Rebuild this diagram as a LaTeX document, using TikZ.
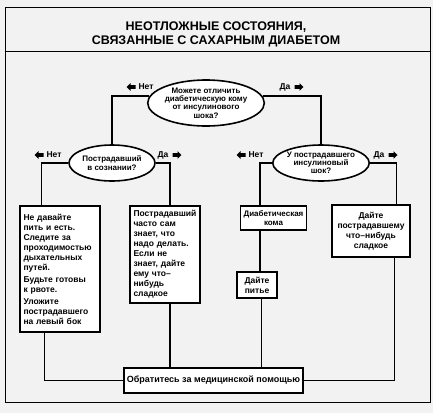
\documentclass[tikz,border=0pt]{standalone}
\usepackage{fontspec}
\setmainfont{Liberation Sans}
\usetikzlibrary{shapes.geometric}
\begin{document}
\begin{tikzpicture}[x=1pt,y=-1pt,
  boxx/.style={draw,line width=1.6pt,fill=white,inner sep=3pt,font=\fontsize{8.5}{10}\selectfont\bfseries},
  ell/.style={draw,ellipse,line width=1.6pt,fill=white,inner sep=0pt,align=center,font=\fontsize{8}{8.2}\selectfont\bfseries},
  conn/.style={line width=1.4pt},
  lbl/.style={inner sep=0pt,font=\fontsize{8.5}{9}\selectfont\bfseries},
  larrow/.style={fill=black},
]
\useasboundingbox (0,0) rectangle (433,413);
\fill[gray!10] (0,0) rectangle (433,413);
\draw[line width=0.9pt] (5,7) rectangle (430,402);
\draw[line width=0.9pt] (5,51) -- (430,51);
\node[align=center,font=\fontsize{12.5}{14}\selectfont\bfseries] (title) at (216,34) {НЕОТЛОЖНЫЕ СОСТОЯНИЯ,\\СВЯЗАННЫЕ С САХАРНЫМ ДИАБЕТОМ};

% ellipses
\node[ell,minimum width=102pt,minimum height=46pt] (top) at (206,103) {Можете отличить\\диабетическую кому\\от инсулинового\\шока?};
\node[ell,minimum width=86pt,minimum height=36pt] (le) at (112,163) {Пострадавший\\в сознании?};
\node[ell,minimum width=94pt,minimum height=36pt] (re) at (321,163) {У пострадавшего\\инсулиновый\\шок?};

% boxes
\node[boxx,minimum width=80pt,minimum height=126pt,text width=73pt,align=left] (b1) at (60,269) {Не давайте\\пить и есть.\\Следите за\\проходимостью\\дыхательных\\путей.\\[2pt]Будьте готовы\\к рвоте.\\[2pt]Уложите\\пострадавшего\\на левый бок};
\node[boxx,minimum width=70pt,minimum height=97pt,text width=63pt,align=left] (b2) at (165,254.5) {Пострадавший\\часто сам\\знает, что\\надо делать.\\Если не\\знает, дайте\\ему что–\\нибудь\\сладкое};
\node[boxx,minimum width=63pt,minimum height=24pt,align=center,font=\fontsize{8}{9.5}\selectfont\bfseries] (b3) at (273.5,218) {Диабетическая\\кома};
\node[boxx,minimum width=78pt,minimum height=52pt,align=center] (b4) at (371,231) {Дайте\\пострадавшему\\что–нибудь\\сладкое};
\node[boxx,minimum width=40pt,minimum height=26pt,align=center] (b5) at (257,285) {Дайте\\питье};
\node[boxx,minimum width=177pt,minimum height=25pt,align=center,font=\fontsize{9}{10}\selectfont\bfseries] (b6) at (213.5,380.5) {Обратитесь за медицинской помощью};

% connectors
\draw[conn] (top.173) -| (le.north);
\draw[conn] (top.7) -| (re.north);
\draw[conn] (le.west) -| ([xshift=22pt]b1.north west);
\draw[conn] (le.east) -| ([xshift=5pt]b2.north);
\draw[conn] (re.west) -| ([xshift=20pt]b3.north west);
\draw[conn] (re.east) -| ([xshift=65pt]b4.north west);
\draw[conn] ([xshift=20pt]b3.south west) -- ([xshift=20pt]b3.south west |- b5.north);
\draw[conn] ([xshift=25pt]b5.south west) -- ([xshift=25pt]b5.south west |- b6.north);
\draw[conn] ([xshift=5pt]b2.south) -- ([xshift=5pt]b2.south |- b6.north);
\draw[conn] ([xshift=25pt]b1.south west) |- (b6.west);
\draw[conn] ([xshift=63pt]b4.south west) |- (b6.east);

% labels
\node[lbl] (n1) at (146,87) {Нет};
\fill[larrow,shift={(131,87)}] (-4.5,0) -- (-0.5,-3.8) -- (-0.5,-1.8) -- (4.5,-1.8) -- (4.5,1.8) -- (-0.5,1.8) -- (-0.5,3.8) -- cycle;
\node[lbl] (d1) at (285,87) {Да};
\fill[larrow,shift={(299,87)}] (4.5,0) -- (0.5,-3.8) -- (0.5,-1.8) -- (-4.5,-1.8) -- (-4.5,1.8) -- (0.5,1.8) -- (0.5,3.8) -- cycle;
\node[lbl] (n2) at (54,155) {Нет};
\fill[larrow,shift={(39,155)}] (-4.5,0) -- (-0.5,-3.8) -- (-0.5,-1.8) -- (4.5,-1.8) -- (4.5,1.8) -- (-0.5,1.8) -- (-0.5,3.8) -- cycle;
\node[lbl] (d2) at (163,155) {Да};
\fill[larrow,shift={(177,155)}] (4.5,0) -- (0.5,-3.8) -- (0.5,-1.8) -- (-4.5,-1.8) -- (-4.5,1.8) -- (0.5,1.8) -- (0.5,3.8) -- cycle;
\node[lbl] (n3) at (256,155) {Нет};
\fill[larrow,shift={(241,155)}] (-4.5,0) -- (-0.5,-3.8) -- (-0.5,-1.8) -- (4.5,-1.8) -- (4.5,1.8) -- (-0.5,1.8) -- (-0.5,3.8) -- cycle;
\node[lbl] (d3) at (379,155) {Да};
\fill[larrow,shift={(393,155)}] (4.5,0) -- (0.5,-3.8) -- (0.5,-1.8) -- (-4.5,-1.8) -- (-4.5,1.8) -- (0.5,1.8) -- (0.5,3.8) -- cycle;
\end{tikzpicture}
\end{document}
